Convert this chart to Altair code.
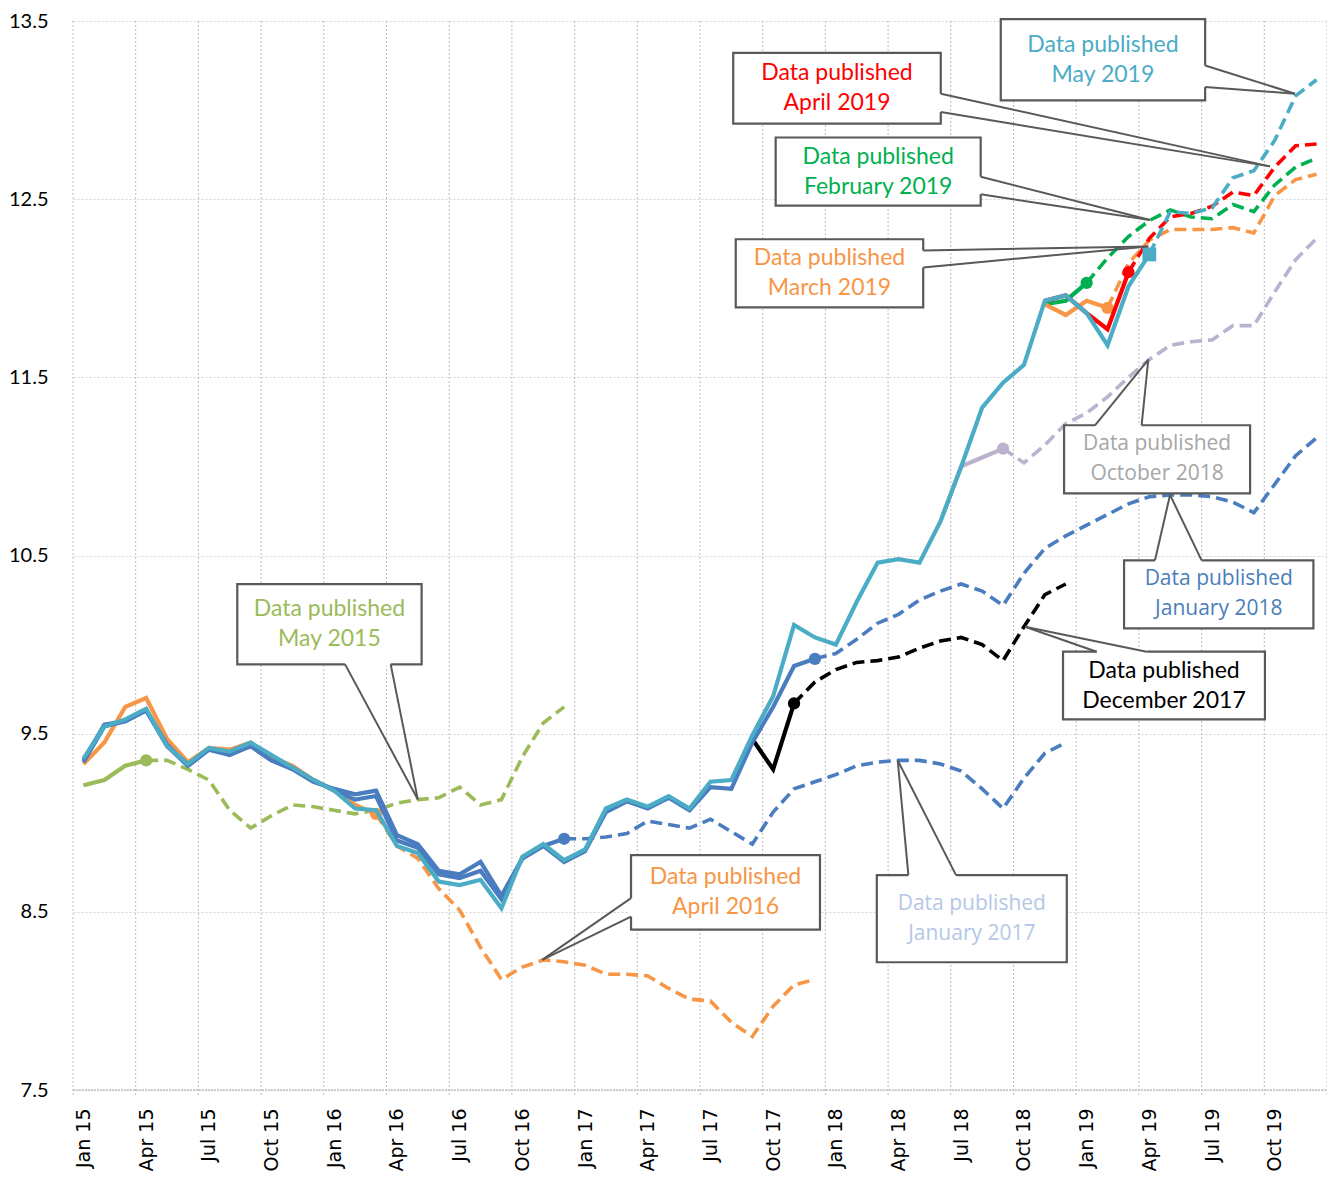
import altair as alt
import pandas as pd

# ---------------- axis data ----------------
TICK_LABELS = ["Jan 15", "Apr 15", "Jul 15", "Oct 15", "Jan 16", "Apr 16", "Jul 16", "Oct 16",
               "Jan 17", "Apr 17", "Jul 17", "Oct 17", "Jan 18", "Apr 18", "Jul 18", "Oct 18",
               "Jan 19", "Apr 19", "Jul 19", "Oct 19"]
TICK_POS = list(range(0, 60, 3))          # month index, 0 = Jan 2015
Y_TICKS = [7.5, 8.5, 9.5, 10.5, 11.5, 12.5, 13.5]
GRID_X = [k * 3 - 0.5 for k in range(21)]  # category boundaries every quarter

# ---------------- series (month index 0 = Jan 2015) ----------------
may15_start = 0
may15_hist = [9.21, 9.24, 9.32, 9.35]
may15_fcst = [9.35, 9.30, 9.24, 9.07, 8.97, 9.04, 9.10, 9.09, 9.07, 9.05, 9.07, 9.11,
              9.13, 9.14, 9.20, 9.10, 9.13, 9.37, 9.56, 9.65]

apr16_start = 0
apr16_hist = [9.33, 9.45, 9.65, 9.70, 9.47, 9.34, 9.42, 9.41, 9.45, 9.37, 9.32, 9.24,
              9.18, 9.10, 9.05]
apr16_fcst = [8.87, 8.80, 8.63, 8.51, 8.30, 8.12, 8.19, 8.23, 8.22, 8.20, 8.15, 8.15,
              8.14, 8.07, 8.01, 8.00, 7.88, 7.80, 7.97, 8.09, 8.12]

jan17_start = 0
jan17_hist = [9.34, 9.54, 9.57, 9.63, 9.44, 9.32, 9.41, 9.39, 9.43, 9.35, 9.30, 9.23,
              9.19, 9.16, 9.18, 8.93, 8.88, 8.73, 8.71, 8.78, 8.59, 8.80, 8.87, 8.91]
jan17_fcst = [8.91, 8.92, 8.94, 9.01, 8.99, 8.97, 9.02, 8.95, 8.88, 9.06, 9.19, 9.23,
              9.27, 9.32, 9.34, 9.35, 9.35, 9.33, 9.29, 9.19, 9.08, 9.25, 9.39, 9.45]

dec17_start = 32
dec17_hist = [9.47, 9.30, 9.67]
dec17_fcst = [9.79, 9.86, 9.90, 9.91, 9.93, 9.98, 10.02, 10.04, 10.00, 9.91, 10.10,
              10.28, 10.34]

jan18_start = 0
jan18_hist = [9.35, 9.55, 9.57, 9.63, 9.43, 9.32, 9.41, 9.38, 9.43, 9.35, 9.31, 9.24,
              9.18, 9.13, 9.15, 8.90, 8.86, 8.71, 8.69, 8.73, 8.57, 8.80, 8.87, 8.78,
              8.84, 9.06, 9.12, 9.08, 9.14, 9.07, 9.20, 9.19, 9.45, 9.65, 9.88, 9.92]
jan18_fcst = [9.95, 10.03, 10.12, 10.17, 10.25, 10.30, 10.34, 10.30, 10.22, 10.40,
              10.54, 10.61, 10.67, 10.73, 10.79, 10.83, 10.84, 10.84, 10.83, 10.80,
              10.74, 10.90, 11.06, 11.16]

oct18_start = 41
oct18_hist = [10.69, 11.00, 11.05, 11.10]
oct18_fcst = [11.02, 11.12, 11.24, 11.30, 11.39, 11.50, 11.60, 11.68, 11.70, 11.71,
              11.79, 11.79, 11.98, 12.16, 12.28]

feb19_start = 46
feb19_hist = [11.91, 11.93, 12.03]
feb19_fcst = [12.17, 12.29, 12.38, 12.44, 12.40, 12.39, 12.47, 12.43, 12.58, 12.68, 12.73]

mar19_start = 46
mar19_hist = [11.91, 11.85, 11.93, 11.89]
mar19_fcst = [12.14, 12.27, 12.33, 12.33, 12.33, 12.34, 12.31, 12.52, 12.61, 12.64]

apr19_start = 46
apr19_hist = [11.93, 11.96, 11.86, 11.77, 12.09]
apr19_fcst = [12.28, 12.40, 12.42, 12.46, 12.54, 12.52, 12.68, 12.80, 12.81]

may19_start = 0
may19_hist = [9.36, 9.54, 9.58, 9.64, 9.43, 9.33, 9.42, 9.40, 9.45, 9.38,
              9.31, 9.24, 9.18, 9.08, 9.07, 8.87, 8.83, 8.67, 8.65, 8.68,
              8.52, 8.81, 8.88, 8.79, 8.85, 9.08, 9.13, 9.09, 9.15, 9.08,
              9.23, 9.24, 9.49, 9.71, 10.11, 10.04, 10.00, 10.24, 10.46, 10.48,
              10.46, 10.69, 11.00, 11.33, 11.47, 11.57, 11.93, 11.96, 11.86, 11.68,
              12.01, 12.19]
may19_fcst = [12.43, 12.42, 12.45, 12.62, 12.66, 12.83, 13.08, 13.17]

VINTAGES = [
    (may15_start, may15_hist, may15_fcst, "#9BBB59", "circle"),
    (apr16_start, apr16_hist, apr16_fcst, "#F79646", "circle"),
    (jan17_start, jan17_hist, jan17_fcst, "#4A7CC0", "circle"),
    (dec17_start, dec17_hist, dec17_fcst, "#000000", "circle"),
    (jan18_start, jan18_hist, jan18_fcst, "#4A7CC0", "circle"),
    (oct18_start, oct18_hist, oct18_fcst, "#BCB2D0", "circle"),
    (feb19_start, feb19_hist, feb19_fcst, "#00B050", "circle"),
    (mar19_start, mar19_hist, mar19_fcst, "#F79646", "circle"),
    (apr19_start, apr19_hist, apr19_fcst, "#FF0000", "circle"),
    (may19_start, may19_hist, may19_fcst, "#4BACC6", "square"),
]

# ---------------- callouts (data units: month index, value) ----------------
call_text = ["Data published\nMay 2015", "Data published\nApril 2016",
             "Data published\nJanuary 2017", "Data published\nDecember 2017",
             "Data published\nJanuary 2018", "Data published\nOctober 2018",
             "Data published\nMarch 2019", "Data published\nFebruary 2019",
             "Data published\nApril 2019", "Data published\nMay 2019"]
call_color = ["#9BBB59", "#F79646", "#B4C7E7", "#000000", "#4A7EBB", "#A6A6A6",
              "#F79646", "#00B050", "#FF0000", "#4BACC6"]
call_font = ["Lato", "Lato", "Open Sans", "Lato", "Open Sans", "Open Sans",
             "Lato", "Lato", "Lato", "Lato"]
call_x1 = [7.36, 26.20, 37.96, 46.87, 49.79, 46.92, 31.21, 33.12, 31.09, 43.89]
call_x2 = [16.18, 35.24, 47.05, 56.53, 58.85, 55.82, 40.18, 42.93, 41.02, 53.67]
call_top = [10.339, 8.818, 8.706, 9.960, 10.473, 11.231, 12.275, 12.846, 13.321, 13.510]
call_bot = [9.889, 8.400, 8.217, 9.580, 10.091, 10.849, 11.893, 12.464, 12.924, 13.054]
call_b1x = [12.52, 26.20, 39.47, 48.48, 51.27, 48.40, 40.18, 42.93, 41.02, 53.67]
call_b1y = [9.889, 8.577, 8.706, 9.960, 10.473, 11.231, 12.212, 12.626, 13.092, 13.250]
call_b2x = [14.70, 26.20, 41.75, 50.87, 53.50, 50.63, 40.18, 42.93, 41.02, 53.67]
call_b2y = [9.889, 8.473, 8.706, 9.960, 10.473, 11.231, 12.117, 12.527, 12.989, 13.129]
call_tx = [16.00, 21.95, 38.96, 45.05, 51.99, 50.95, 50.95, 51.03, 56.77, 57.97]
call_ty = [9.13, 8.23, 9.35, 10.10, 10.84, 11.60, 12.235, 12.383, 12.684, 13.092]

# ---------------- chart ----------------
xs = alt.Scale(domain=[-0.5, 59.5], nice=False, zero=False)
ys = alt.Scale(domain=[7.5, 13.5], nice=False, zero=False)

label_expr = "[" + ",".join("'%s'" % t for t in TICK_LABELS) + "][round(datum.value / 3)]"
x_axis = alt.Axis(values=TICK_POS, labelExpr=label_expr, grid=False, ticks=False, domain=False,
                  labelAngle=270, labelFont="DejaVu Sans", labelFontSize=19, labelColor="#000000",
                  labelPadding=18, labelOverlap=False, title=None)
y_axis = alt.Axis(values=Y_TICKS, format=".1f", grid=True, gridColor="#D4D4D4", gridDash=[2, 2],
                  gridWidth=1, ticks=False, domain=False, labelFont="Lato", labelFontSize=20,
                  labelColor="#000000", labelPadding=25, title=None, labelOverlap=False)


def X(f):
    return alt.X(f, type="quantitative", scale=xs, axis=x_axis)


def Y(f):
    return alt.Y(f, type="quantitative", scale=ys, axis=y_axis)


layers = []
# bottom line at 7.5 (also defines the y axis)
layers.append(alt.Chart(pd.DataFrame({"a": [-0.5], "b": [59.5], "v": [7.5]})).mark_rule(
    color="#A6A6A6", strokeWidth=1, strokeDash=[2, 1]).encode(x=X("a"), x2="b", y=Y("v")))
# vertical grid at category boundaries, extending a little below the axis as ticks
grid_df = pd.DataFrame({"gx": GRID_X})
layers.append(alt.Chart(grid_df).mark_rule(color="#BDBDBD", strokeWidth=1, strokeDash=[2, 2]).encode(
    x=X("gx"), y=alt.value(0), y2=alt.value(1076)))

for start, hist, fcst, color, shape in VINTAGES:
    n = len(hist)
    hist_df = pd.DataFrame({"i": list(range(start, start + n)), "v": hist})
    j = start + n - 1
    fc_vals = [hist[-1]] + fcst
    fc_df = pd.DataFrame({"i": list(range(j, j + len(fc_vals))), "v": fc_vals})
    layers.append(alt.Chart(fc_df).mark_line(color=color, strokeWidth=3.6, strokeDash=[12, 6]).encode(
        x=X("i"), y=Y("v")))
    layers.append(alt.Chart(hist_df).mark_line(color=color, strokeWidth=4.2).encode(x=X("i"), y=Y("v")))
    layers.append(alt.Chart(hist_df.tail(1)).mark_point(shape=shape, filled=True, opacity=1,
                                                         size=190 if shape == "square" else 150,
                                                         color=color).encode(x=X("i"), y=Y("v")))

cdf = pd.DataFrame({
    "text": call_text, "tcolor": call_color, "font": call_font,
    "x1": call_x1, "x2": call_x2, "top": call_top, "bot": call_bot,
    "b1x": call_b1x, "b1y": call_b1y, "b2x": call_b2x, "b2y": call_b2y,
    "tx": call_tx, "ty": call_ty,
})
cdf["cx"] = (cdf["x1"] + cdf["x2"]) / 2
cdf["cy"] = (cdf["top"] + cdf["bot"]) / 2

layers.append(alt.Chart(cdf).mark_rect(fill="white", stroke="#595959", strokeWidth=2.2).encode(
    x=X("x1"), x2="x2", y=Y("top"), y2="bot"))
layers.append(alt.Chart(cdf).mark_rule(color="white", strokeWidth=4).encode(
    x=X("b1x"), y=Y("b1y"), x2="b2x", y2="b2y"))
layers.append(alt.Chart(cdf).mark_rule(color="#595959", strokeWidth=2).encode(
    x=X("b1x"), y=Y("b1y"), x2="tx", y2="ty"))
layers.append(alt.Chart(cdf).mark_rule(color="#595959", strokeWidth=2).encode(
    x=X("b2x"), y=Y("b2y"), x2="tx", y2="ty"))
for fnt, size in [("Lato", 23), ("Open Sans", 21)]:
    layers.append(alt.Chart(cdf).transform_filter(alt.datum.font == fnt).mark_text(
        font=fnt, fontSize=size, lineBreak="\n", lineHeight=30, align="center", baseline="middle",
        dy=-15).encode(
        x=X("cx"), y=Y("cy"), text="text:N", color=alt.Color("tcolor:N", scale=None)))

chart = alt.layer(*layers).properties(
    width=1254, height=1069,
    autosize=alt.AutoSizeParams(type="none"),
    padding={"left": 65, "top": 13, "right": 0, "bottom": 90},
    background="white",
).configure_view(stroke=None)

chart.save("out.html", embed_options={"renderer": "svg", "actions": False})
